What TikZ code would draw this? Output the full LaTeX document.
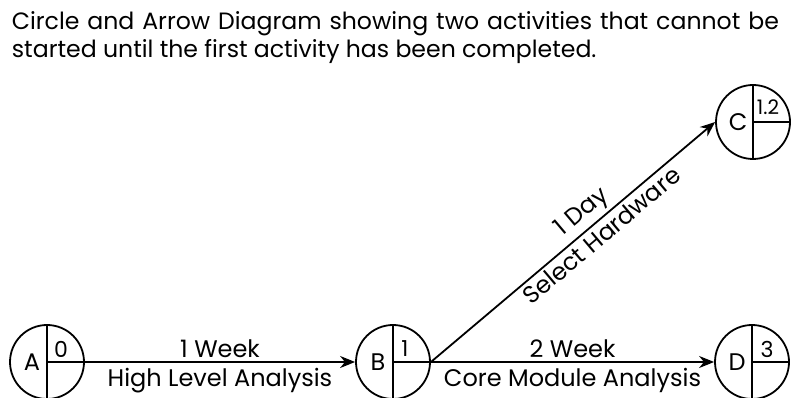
\documentclass[tikz,border=0pt]{standalone}
\usepackage{fontspec}
\setmainfont{Poppins}
\usetikzlibrary{arrows.meta}

\begin{document}
\begin{tikzpicture}[x=1pt,y=1pt,>={Stealth[length=15pt,width=12pt]},
                    line width=1.8pt,
                    font=\fontsize{24}{28}\selectfont]
  \tikzset{event/.style={circle,draw,minimum size=74pt,inner sep=0pt,
      path picture={\draw[line width=1.8pt]
        (path picture bounding box.north) -- (path picture bounding box.south)
        (path picture bounding box.center) -- (path picture bounding box.east);}},
    tag/.style={inner sep=0pt,font=\fontsize{24}{26}\selectfont},
    num/.style={inner sep=0pt,font=\fontsize{22}{24}\selectfont},
    under/.style={below,yshift=-2pt}}
  \useasboundingbox (0,0) rectangle (791,398);

  \node[anchor=north west,inner sep=0pt,text width=767pt,align=justify,
        font=\fontsize{23.6}{28}\selectfont] (title) at (11,387)
    {Circle and Arrow Diagram showing two activities that cannot be\linebreak
     started until the first activity has been completed.};

  \node[event] (A) at (47,36)  {};
  \node[event] (B) at (393,36) {};
  \node[event] (C) at (753,276) {};
  \node[event] (D) at (752,36) {};

  \node[tag] (Aid) at ([xshift=-15pt]A.center) {A};
  \node[tag] (Bid) at ([xshift=-15pt]B.center) {B};
  \node[tag] (Cid) at ([xshift=-15pt]C.center) {C};
  \node[tag] (Did) at ([xshift=-15pt]D.center) {D};
  \node[num] (Anum) at ([xshift=14pt,yshift=13pt]A.center) {0};
  \node[num] (Bnum) at ([xshift=12pt,yshift=13pt]B.center) {1};
  \node[num,font=\fontsize{20}{22}\selectfont] (Cnum) at ([xshift=15pt,yshift=15pt]C.center) {1.2};
  \node[num] (Dnum) at ([xshift=15pt,yshift=13pt]D.center) {3};

  \draw[->] (A) -- node[above] {1 Week} node[under] {High Level Analysis} (B);
  \draw[->] (B.east) -- node[pos=0.57,above,sloped] {1 Day}
                        node[pos=0.57,below,sloped] {Select Hardware} (C.west);
  \draw[->] (B) -- node[above] {2 Week} node[under] {Core Module Analysis} (D);
\end{tikzpicture}
\end{document}
